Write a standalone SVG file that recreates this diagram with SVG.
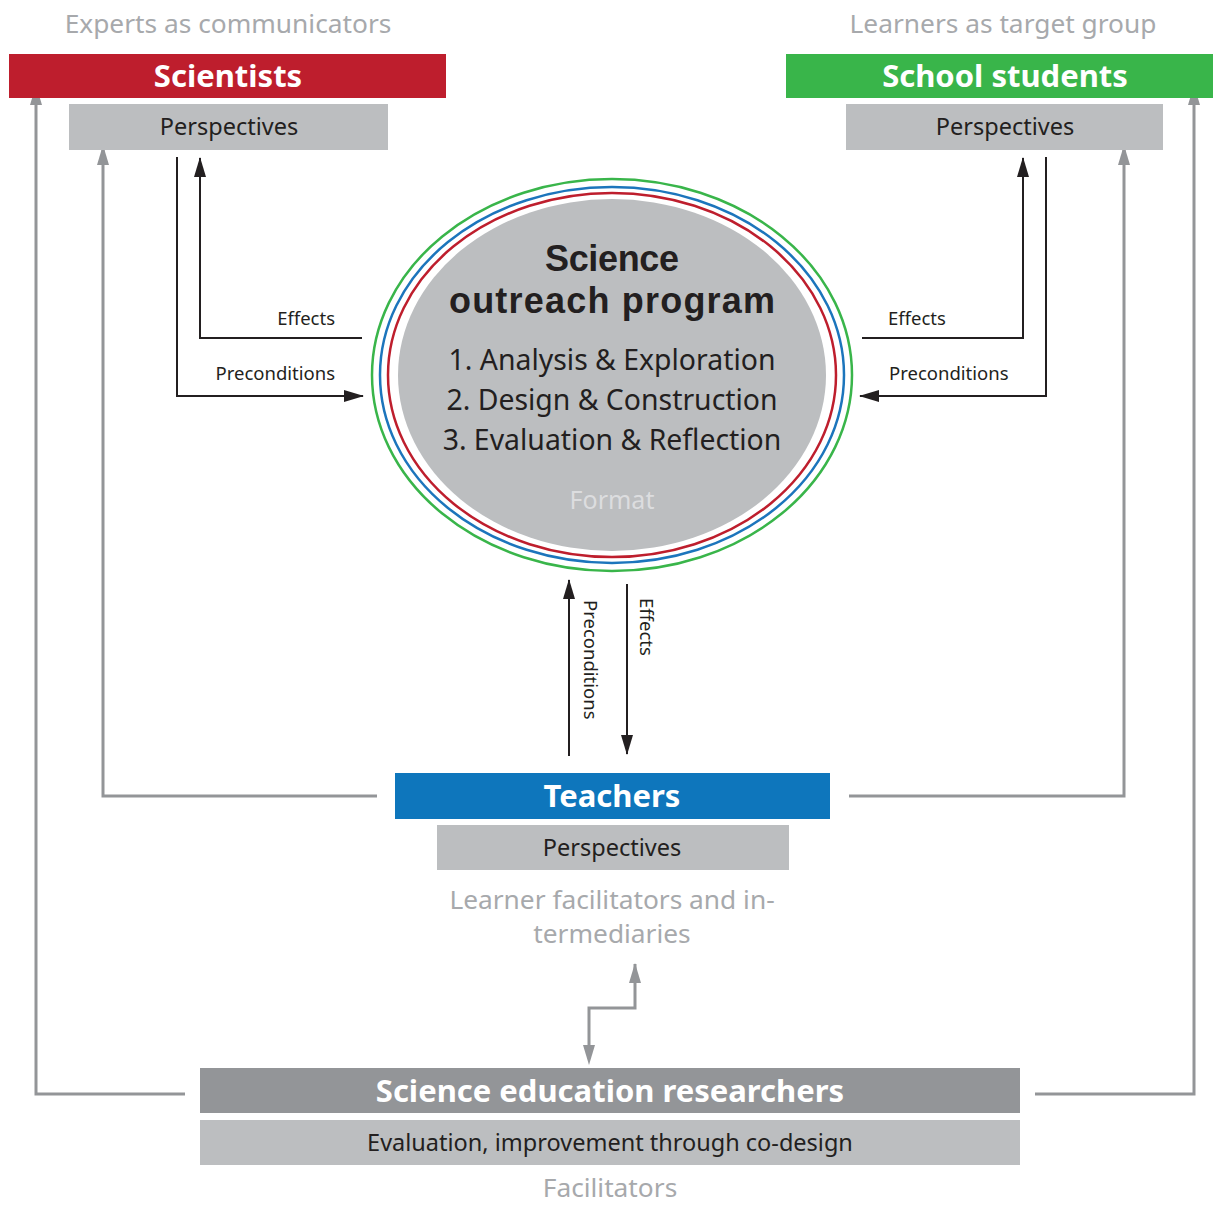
<svg xmlns="http://www.w3.org/2000/svg" width="1213" height="1206" viewBox="0 0 1213 1206">
<defs>
<style>
text{font-family:"Noto Sans","Open Sans","Liberation Sans",sans-serif;}
.hdr{fill:#ffffff;font-weight:bold;font-size:31px;text-anchor:middle;}
.per{fill:#231f20;font-size:23.5px;text-anchor:middle;}
.cap{fill:#a7a9ac;font-size:26.3px;text-anchor:middle;}
.lbl{fill:#231f20;font-size:18.5px;}
.blk{stroke:#231f20;stroke-width:2;fill:none;}
.gry{stroke:#939598;stroke-width:3;fill:none;}
.ptitle{fill:#231f20;font-family:"Liberation Sans","Noto Sans",sans-serif;font-weight:bold;font-size:36px;text-anchor:middle;}
.pitem{fill:#231f20;font-size:28.4px;text-anchor:middle;}
</style>
<marker id="ab2" viewBox="0 0 20 12" refX="19" refY="6" markerWidth="20" markerHeight="12" markerUnits="userSpaceOnUse" orient="auto"><path d="M0,0 L20,6 L0,12 Z" fill="#231f20"/></marker>
<marker id="ag2" viewBox="0 0 20 12" refX="19" refY="6" markerWidth="20" markerHeight="12" markerUnits="userSpaceOnUse" orient="auto"><path d="M0,0 L20,6 L0,12 Z" fill="#939598"/></marker>
<marker id="ag2s" viewBox="0 0 20 12" refX="1" refY="6" markerWidth="20" markerHeight="12" markerUnits="userSpaceOnUse" orient="auto-start-reverse"><path d="M0,0 L20,6 L0,12 Z" fill="#939598"/></marker>
</defs>
<rect width="1213" height="1206" fill="#ffffff"/>

<g id="connectors">
<polyline class="gry" points="185,1094 36,1094 36,86" marker-end="url(#ag2)"/>
<polyline class="gry" points="1035,1094 1194,1094 1194,86" marker-end="url(#ag2)"/>
<polyline class="gry" points="377,796 103,796 103,146" marker-end="url(#ag2)"/>
<polyline class="gry" points="849,796 1124,796 1124,146" marker-end="url(#ag2)"/>
<polyline class="gry" points="589,1046 589,1008 635,1008 635,964" marker-start="url(#ag2s)" marker-end="url(#ag2)"/>
<polyline class="blk" points="177,157 177,396 363,396" marker-end="url(#ab2)"/>
<polyline class="blk" points="362,338 200,338 200,158" marker-end="url(#ab2)"/>
<polyline class="blk" points="862,338 1023,338 1023,158" marker-end="url(#ab2)"/>
<polyline class="blk" points="1046,157 1046,396 860,396" marker-end="url(#ab2)"/>
<line class="blk" x1="569" y1="756" x2="569" y2="580" marker-end="url(#ab2)"/>
<line class="blk" x1="627" y1="584" x2="627" y2="754" marker-end="url(#ab2)"/>
<text class="lbl" x="335" y="325" text-anchor="end">Effects</text>
<text class="lbl" x="335" y="380" text-anchor="end">Preconditions</text>
<text class="lbl" x="888" y="325">Effects</text>
<text class="lbl" x="889" y="380">Preconditions</text>
<text class="lbl" transform="translate(584,600) rotate(90)">Preconditions</text>
<text class="lbl" transform="translate(640,598) rotate(90)">Effects</text>
</g>

<g id="scientists">
<text class="cap" x="228" y="33">Experts as communicators</text>
<rect x="9" y="54" width="437" height="44" fill="#be1e2d"/>
<text class="hdr" x="228" y="87">Scientists</text>
<rect x="69" y="104" width="319" height="46" fill="#bcbec0"/>
<text class="per" x="229" y="135">Perspectives</text>
</g>

<g id="school-students">
<text class="cap" x="1003" y="33">Learners as target group</text>
<rect x="786" y="54" width="427" height="44" fill="#39b54a"/>
<text class="hdr" x="1005" y="87">School students</text>
<rect x="846" y="104" width="317" height="46" fill="#bcbec0"/>
<text class="per" x="1005" y="135">Perspectives</text>
</g>

<g id="program">
<ellipse cx="612" cy="375" rx="240" ry="196" fill="none" stroke="#39b54a" stroke-width="2.5"/>
<ellipse cx="612" cy="375" rx="232" ry="188" fill="none" stroke="#1c75bc" stroke-width="2.5"/>
<ellipse cx="612" cy="375" rx="224" ry="182" fill="none" stroke="#be1e2d" stroke-width="2.5"/>
<ellipse cx="612" cy="375" rx="214" ry="176" fill="#bcbec0"/>
<text class="ptitle" x="612" y="271" textLength="134">Science</text>
<text class="ptitle" x="612" y="313" textLength="326">outreach program</text>
<text class="pitem"><tspan x="612" y="370">1. Analysis &amp; Exploration</tspan><tspan x="612" y="410">2. Design &amp; Construction</tspan><tspan x="612" y="450">3. Evaluation &amp; Reflection</tspan></text>
<text x="612" y="509" fill="#dcdddf" font-size="25" text-anchor="middle">Format</text>
</g>

<g id="teachers">
<rect x="395" y="773" width="435" height="46" fill="#0e76bc"/>
<text class="hdr" x="612" y="807">Teachers</text>
<rect x="437" y="825" width="352" height="45" fill="#bcbec0"/>
<text class="per" x="612" y="856">Perspectives</text>
<text class="cap"><tspan x="612" y="909">Learner facilitators and in-</tspan><tspan x="612" y="943">termediaries</tspan></text>
</g>

<g id="researchers">
<rect x="200" y="1068" width="820" height="45" fill="#939598"/>
<text class="hdr" x="610" y="1102">Science education researchers</text>
<rect x="200" y="1120" width="820" height="45" fill="#bcbec0"/>
<text class="per" x="610" y="1151" font-size="24">Evaluation, improvement through co-design</text>
<text class="cap" x="610" y="1197">Facilitators</text>
</g>
</svg>
